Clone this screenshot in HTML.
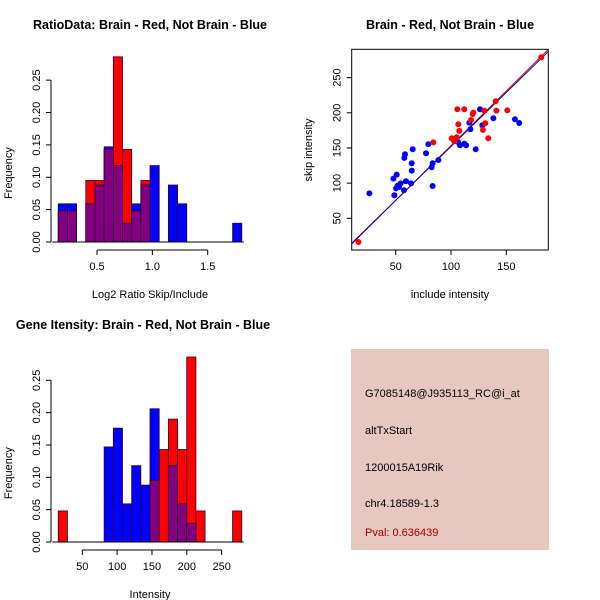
<!DOCTYPE html>
<html><head><meta charset="utf-8"><style>
body{margin:0;background:#fff}
svg{display:block;font-family:"Liberation Sans",sans-serif}
</style></head><body>
<svg id="c" width="600" height="600" xmlns="http://www.w3.org/2000/svg"></svg>
<script>
// ---- Ratio histogram data ----
const ratioBinStart = 0.150;
const ratioBinWidth = 0.0829;
const ratioBlue = [0.059,0.059,0,0.059,0.088,0.147,0.118,0.029,0.059,0.088,0.118,0,0.088,0.059,0,0,0,0,0,0.029];
const ratioRed  = [0.048,0.048,0,0.095,0.095,0.143,0.286,0.143,0.048,0.095,0,0,0,0,0,0,0,0,0,0];
const ratioXTicks = [0.5,1.0,1.5];
const freqTicks = [0,0.05,0.10,0.15,0.20,0.25];
const freqTickLabels = ["0.00","0.05","0.10","0.15","0.20","0.25"];
// ---- Intensity histogram data ----
const intBinStart = 15.5;
const intBinWidth = 13.17;
const intBlue = [0,0,0,0,0,0.147,0.176,0.059,0.118,0.088,0.206,0,0.118,0.059,0.029,0,0,0,0,0];
const intRed  = [0.048,0,0,0,0,0,0,0,0,0,0.095,0.143,0.190,0.143,0.286,0.048,0,0,0,0.048];
const intXTicks = [50,100,150,200,250];
// ---- Scatter data ----
const redX = [16.3,181.6,84.0,100.6,103.0,105.1,105.7,112.0,106.6,107.5,118.1,120.2,119.6,130.1,128.9,131.0,133.7,140.4,141.0,150.9,102.0];
const redY = [16.3,278.9,158.0,163.7,159.5,165.2,205.0,205.0,183.6,174.2,189.8,200.2,198.3,203.1,175.6,185.1,163.7,216.3,203.1,203.5,162.0];
const blueX = [26.2,47.9,48.8,50.3,50.9,51.8,53.0,54.5,57.5,59.3,63.9,57.8,58.4,65.4,64.5,64.5,77.4,79.5,82.5,83.4,88.6,83.4,106.3,108.1,112.0,113.6,116.6,117.5,122.3,126.2,128.3,138.3,157.8,161.7];
const blueY = [85.5,106.4,82.7,92.6,112.1,96.4,94.5,99.7,89.8,102.6,99.7,135.8,141.0,148.1,128.2,117.8,142.4,155.2,122.5,128.2,132.9,95.9,158.5,153.8,156.1,153.8,186.0,176.5,148.1,205.0,182.2,192.2,190.8,185.5];
const lineSlopes = [1.556,1.533];
const lineIntercepts = [-2.4,-1.1];
const lineColors = ["#d00000","#0000a0"];
const scatterXTicks = [50,100,150];
const scatterYTicks = [50,100,150,200,250];
const infoLines = ["G7085148@J935113_RC@i_at","altTxStart","1200015A19Rik","chr4.18589-1.3"];
const pvalText = "Pval: 0.636439";

const svg = document.getElementById('c');
const NS = 'http://www.w3.org/2000/svg';
function mk(tag, attrs, parent){const e=document.createElementNS(NS,tag);for(const k in attrs)e.setAttribute(k,attrs[k]);(parent||svg).appendChild(e);return e;}
function txt(s, attrs){const e=mk('text',attrs);e.textContent=s;return e;}

function hist(opts){
  const g = mk('g',{});
  
  
  const sx = v => opts.x0px + (v - opts.x0v) * opts.pxPerX;
  const sy = v => opts.y0px - v * opts.pxPerY;
  const n = opts.blue.length;
  const drawBar=(i,h,col,nm)=>{
    if(h<=0) return;
    const x1=sx(opts.start+i*opts.width), x2=sx(opts.start+(i+1)*opts.width);
    const r=mk('rect',{x:x1,y:sy(h),width:x2-x1,height:sy(0)-sy(h),fill:col,stroke:'#300030','stroke-width':0.8},g);
    
    
  };
  for(let i=0;i<n;i++) drawBar(i,opts.blue[i],'#0000ff','blue-bar');
  for(let i=0;i<n;i++) drawBar(i,opts.red[i],'#ff0000','red-bar');
  for(let i=0;i<n;i++) drawBar(i,Math.min(opts.blue[i],opts.red[i]),'#800080','overlap-bar');
  mk('line',{x1:sx(opts.start)-6,x2:sx(opts.start+n*opts.width)+2,y1:sy(0),y2:sy(0),stroke:'#000'},g);
  const ya=mk('g',{},g);
  
  
  mk('line',{x1:opts.yaxisX,x2:opts.yaxisX,y1:sy(0),y2:sy(freqTicks[freqTicks.length-1]),stroke:'#000'},ya);
  freqTicks.forEach((t,i)=>{
    mk('line',{x1:opts.yaxisX-5,x2:opts.yaxisX,y1:sy(t),y2:sy(t),stroke:'#000'},ya);
    const l=txt(freqTickLabels[i],{x:0,y:0,'font-size':11,'text-anchor':'middle',transform:`translate(${opts.yaxisX-11},${sy(t)}) rotate(-90)`});
    ya.appendChild(l);
  });
  const xa=mk('g',{},g);
  
  
  const xt=opts.xticks;
  mk('line',{x1:sx(xt[0]),x2:sx(xt[xt.length-1]),y1:opts.xaxisY,y2:opts.xaxisY,stroke:'#000'},xa);
  xt.forEach(t=>{
    mk('line',{x1:sx(t),x2:sx(t),y1:opts.xaxisY,y2:opts.xaxisY+5,stroke:'#000'},xa);
    const l=txt(String(t==1?'1.0':t),{x:sx(t),y:opts.xaxisY+20,'font-size':11,'text-anchor':'middle'});
    xa.appendChild(l);
  });
  const xl=txt(opts.xlabel,{x:150,y:opts.xaxisY+48,'font-size':11,'text-anchor':'middle'});
  
  
  const yl=txt('Frequency',{x:0,y:0,'font-size':11,'text-anchor':'middle',transform:`translate(12,${(sy(0)+sy(0.25))/2+12}) rotate(-90)`});
  
  
}

hist({name:'ratio-histogram',blue:ratioBlue,red:ratioRed,start:ratioBinStart,width:ratioBinWidth,
  x0v:0.5,x0px:97,pxPerX:110.7,y0px:242,pxPerY:647.4,yaxisX:51,xaxisY:250,xticks:ratioXTicks,xlabel:'Log2 Ratio Skip/Include'});
hist({name:'intensity-histogram',blue:intBlue,red:intRed,start:intBinStart,width:intBinWidth,
  x0v:50,x0px:82.3,pxPerX:0.6967,y0px:542,pxPerY:646.8,yaxisX:51,xaxisY:550,xticks:intXTicks,xlabel:'Intensity'});

let t=txt('RatioData: Brain - Red, Not Brain - Blue',{x:150,y:29,'font-size':12.5,'font-weight':'bold','text-anchor':'middle'});

t=txt('Brain - Red, Not Brain - Blue',{x:450,y:29,'font-size':12.5,'font-weight':'bold','text-anchor':'middle'});

t=txt('Gene Itensity: Brain - Red, Not Brain - Blue',{x:143,y:329,'font-size':12.5,'font-weight':'bold','text-anchor':'middle'});


(function(){
  const L=351.7,R=548.3,T=49.3,B=250;
  const sx=v=>395.7+(v-50)*55.3/50;
  const sy=v=>218.3-(v-50)*140.7/200;
  const g=mk('g',{});
  
  
  const cp=mk('clipPath',{id:'sc'},g);mk('rect',{x:L,y:T,width:R-L,height:B-T},cp);
  const box=mk('rect',{x:L,y:T,width:R-L,height:B-T,fill:'none',stroke:'#000'},g);
  
  const x0=0,x1=200;
  lineSlopes.forEach((m,i)=>{
    const ln=mk('line',{x1:sx(x0),y1:sy(m*x0+lineIntercepts[i]),x2:sx(x1),y2:sy(m*x1+lineIntercepts[i]),stroke:lineColors[i],'stroke-width':1,'clip-path':'url(#sc)'},g);
    
  });
  blueX.forEach((x,i)=>{const c=mk('circle',{cx:sx(x),cy:sy(blueY[i]),r:3,fill:'#0000ff'},g);
    });
  redX.forEach((x,i)=>{const c=mk('circle',{cx:sx(x),cy:sy(redY[i]),r:3,fill:'#ff0000'},g);
    });
  scatterXTicks.forEach(v=>{mk('line',{x1:sx(v),x2:sx(v),y1:B,y2:B+5,stroke:'#000'},g);
    g.appendChild(txt(String(v),{x:sx(v),y:B+20,'font-size':11,'text-anchor':'middle'}));});
  scatterYTicks.forEach(v=>{mk('line',{x1:L-5,x2:L,y1:sy(v),y2:sy(v),stroke:'#000'},g);
    g.appendChild(txt(String(v),{x:0,y:0,'font-size':11,'text-anchor':'middle',transform:`translate(${L-11},${sy(v)}) rotate(-90)`}));});
  let a=txt('include intensity',{x:450,y:298,'font-size':11,'text-anchor':'middle'});
  
  a=txt('skip intensity',{x:0,y:0,'font-size':11,'text-anchor':'middle',transform:'translate(312,150) rotate(-90)'});
  
})();

(function(){
  const g=mk('g',{});
  
  
  mk('rect',{x:351,y:349,width:198,height:201,fill:'#e6c8c0'},g);
  const ys=[397,434,471,507];
  infoLines.forEach((s,i)=>{const e=txt(s,{x:365,y:ys[i],'font-size':11,fill:'#000'});g.appendChild(e);
    });
  const p=txt(pvalText,{x:365,y:536,'font-size':11,fill:'#a00000'});g.appendChild(p);
  
})();
</script>
</body></html>
